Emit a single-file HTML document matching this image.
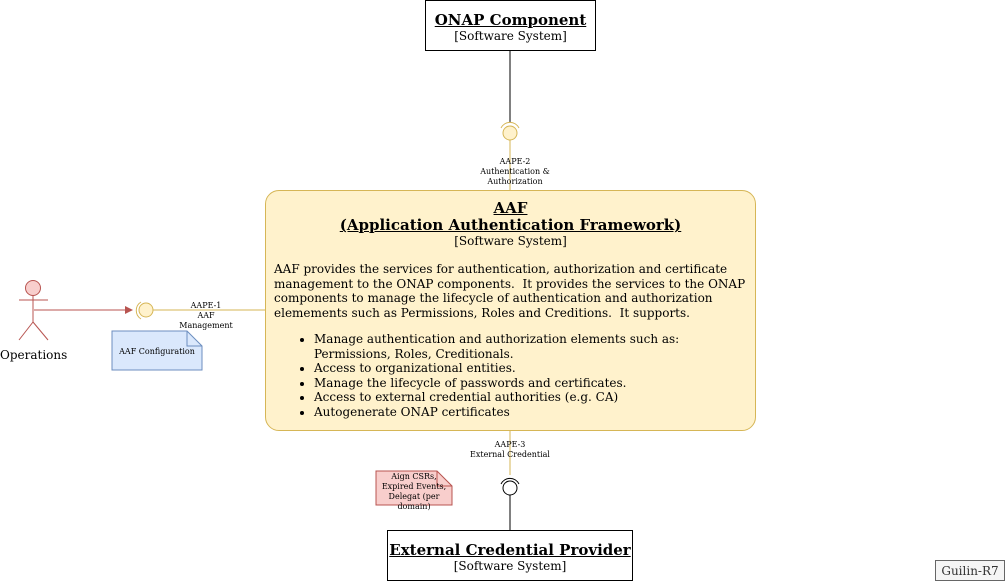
<!DOCTYPE html>
<html><head><meta charset="utf-8"><style>
body{margin:0;width:1006px;height:581px;background:#fff;position:relative;overflow:hidden;font-family:"DejaVu Serif","Liberation Serif",serif;color:#000}
.a{position:absolute}
.box{position:absolute;box-sizing:border-box;text-align:center;font-size:12px;line-height:14px}
.t{font-weight:bold;text-decoration:underline;font-size:15px;line-height:17px}
.s{font-size:8px;line-height:10px;text-align:center;position:absolute}
ul{margin:0;padding-left:40px}
</style></head><body>
<svg class="a" style="left:0;top:0" width="1006" height="581">
<line x1="510" y1="50" x2="510" y2="122" stroke="#000"/>
<line x1="510" y1="140" x2="510" y2="190" stroke="#d6b656"/>
<path d="M501,128 A10,10 0 0 1 519,128" fill="none" stroke="#d6b656"/>
<circle cx="510" cy="133" r="7" fill="#fff2cc" stroke="#d6b656"/>
<line x1="153" y1="310" x2="265" y2="310" stroke="#d6b656"/>
<path d="M141,302 A10,10 0 0 0 141,319" fill="none" stroke="#d6b656"/>
<circle cx="146" cy="310" r="7" fill="#fff2cc" stroke="#d6b656"/>
<line x1="34" y1="310" x2="126" y2="310" stroke="#b85450"/>
<path d="M133,310 L125,306 L125,314 Z" fill="#b85450"/>
<circle cx="33" cy="288" r="7.5" fill="#f8cecc" stroke="#b85450"/>
<line x1="33" y1="295" x2="33" y2="322" stroke="#b85450"/>
<line x1="19" y1="300" x2="48" y2="300" stroke="#b85450"/>
<line x1="33" y1="322" x2="19" y2="340" stroke="#b85450"/>
<line x1="33" y1="322" x2="48" y2="340" stroke="#b85450"/>
<path d="M112,331 H187 L202,346 V370 H112 Z" fill="#dae8fc" stroke="#6c8ebf"/>
<path d="M187,331 V346 H202" fill="none" stroke="#6c8ebf"/>
<line x1="510" y1="430" x2="510" y2="475" stroke="#d6b656"/>
<path d="M501,484 A10,10 0 0 1 519,484" fill="none" stroke="#000"/>
<circle cx="510" cy="488" r="7" fill="#fff" stroke="#000"/>
<line x1="510" y1="495" x2="510" y2="530" stroke="#000"/>
<path d="M376,471 H437 L452,486 V505 H376 Z" fill="#f8cecc" stroke="#b85450"/>
<path d="M437,471 V486 H452" fill="none" stroke="#b85450"/>
</svg>
<div class="box" style="left:425px;top:0;width:171px;height:51px;border:1px solid #000;padding-top:11px"><div class="t">ONAP Component</div>[Software System]</div>
<div class="box" style="left:387px;top:530px;width:246px;height:51px;border:1px solid #000;padding-top:11px"><div class="t">External Credential Provider</div>[Software System]</div>
<div class="box" style="left:265px;top:190px;width:491px;height:241px;border:1px solid #d6b656;border-radius:14px;background:#fff2cc;padding-top:9px"><div class="t">AAF<br>(Application Authentication Framework)</div>[Software System]
<div style="text-align:left;padding:14px 8px 0 8px;font-size:12px;line-height:14.5px">AAF provides the services for authentication, authorization and certificate management to the ONAP components.&nbsp; It provides the services to the ONAP components to manage the lifecycle of authentication and authorization elemements such as Permissions, Roles and Creditions.&nbsp; It supports.
<ul style="margin-top:12px"><li>Manage authentication and authorization elements such as: Permissions, Roles, Creditionals.</li><li>Access to organizational entities.</li><li>Manage the lifecycle of passwords and certificates.</li><li>Access to external credential authorities (e.g. CA)</li><li>Autogenerate ONAP certificates</li></ul></div></div>
<div class="s" style="left:470px;top:157px;width:90px">AAPE-2<br>Authentication &amp;<br>Authorization</div>
<div class="s" style="left:166px;top:301px;width:80px">AAPE-1<br>AAF<br>Management</div>
<div class="s" style="left:112px;top:347px;width:90px">AAF Configuration</div>
<div class="s" style="left:460px;top:440px;width:100px">AAPE-3<br>External Credential</div>
<div class="s" style="left:376px;top:472px;width:76px">Aign CSRs, Expired Events, Delegat (per domain)</div>
<div class="a" style="left:0;top:348px;font-size:12px">Operations</div>
<div class="box" style="left:935px;top:560px;width:70px;height:21px;border:1px solid #666;background:#f5f5f5;color:#333;padding-top:3px">Guilin-R7</div>
</body></html>
